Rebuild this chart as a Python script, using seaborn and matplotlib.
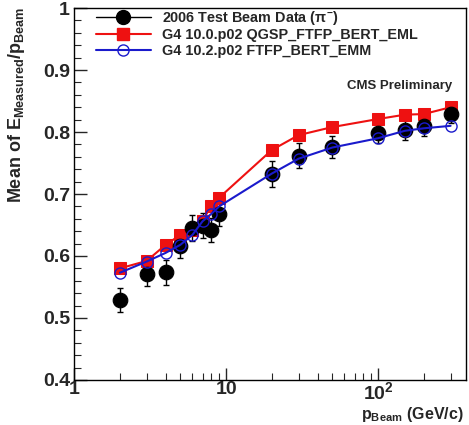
import numpy as np
import pandas as pd
import matplotlib
matplotlib.use('Agg')
import matplotlib.pyplot as plt
import seaborn as sns
from matplotlib.ticker import LogLocator, FixedLocator, NullFormatter
from matplotlib.lines import Line2D

# beam momentum points (GeV/c)
p_beam = [2, 3, 4, 5, 6, 7, 8, 9, 20, 30, 50, 100, 150, 200, 300]

# 2006 test beam data (pi-)
data_mean = [0.529, 0.571, 0.574, 0.616, 0.645, 0.649, 0.642, 0.667, 0.733, 0.762, 0.776, 0.799, 0.803, 0.809, 0.829]
data_err = [0.019, 0.02, 0.02, 0.02, 0.021, 0.02, 0.02, 0.018, 0.021, 0.02, 0.018, 0.016, 0.016, 0.015, 0.014]

# G4 10.0.p02 QGSP_FTFP_BERT_EML
eml_mean = [0.580, 0.592, 0.618, 0.634, 0.642, 0.657, 0.681, 0.694, 0.771, 0.795, 0.808, 0.821, 0.828, 0.829, 0.840]

# G4 10.2.p02 FTFP_BERT_EMM
emm_mean = [0.573, 0.591, 0.605, 0.618, 0.634, 0.656, 0.668, 0.680, 0.733, 0.757, 0.775, 0.790, 0.802, 0.806, 0.810]

legend_labels = ['2006 Test Beam Data ($\\pi^{-}$)',
                 'G4 10.0.p02 QGSP_FTFP_BERT_EML',
                 'G4 10.2.p02 FTFP_BERT_EMM']

df = pd.DataFrame({'p': p_beam, 'data': data_mean, 'err': data_err,
                   'eml': eml_mean, 'emm': emm_mean})

sns.set_style('white')
plt.rcParams['font.family'] = ['Liberation Sans', 'DejaVu Sans']
plt.rcParams['font.weight'] = 'bold'
plt.rcParams['mathtext.fontset'] = 'custom'
plt.rcParams['mathtext.rm'] = 'Liberation Sans:bold'
plt.rcParams['mathtext.it'] = 'Liberation Sans:bold'
plt.rcParams['mathtext.bf'] = 'Liberation Sans:bold'

fig = plt.figure(figsize=(4.69, 4.25), dpi=100)
ax = fig.add_axes([0.158, 0.106, 0.836, 0.875])

# data with error bars
ax.errorbar(df['p'], df['data'], yerr=df['err'], fmt='none', ecolor='black',
            elinewidth=1, capsize=2.5, capthick=1, zorder=2)
sns.lineplot(data=df, x='p', y='eml', ax=ax, color='#ee1111', marker='s',
             markersize=8, markeredgecolor='#ee1111', linewidth=1.5, zorder=3)
sns.scatterplot(data=df, x='p', y='data', ax=ax, color='black', marker='o',
                s=110, edgecolor='black', zorder=4)
sns.lineplot(data=df, x='p', y='emm', ax=ax, color='#1a1acc', marker='o',
             markersize=8, markerfacecolor='none', markeredgecolor='#1a1acc',
             markeredgewidth=1, linewidth=1.5, zorder=5)

ax.set_xscale('log')
ax.set_xlim(1, 380)
ax.set_ylim(0.4, 1.0)

ax.xaxis.set_major_locator(FixedLocator([1, 10, 100]))
ax.set_xticklabels(['1', '10', '$10^{2}$'])
ax.xaxis.set_minor_locator(LogLocator(base=10, subs=np.arange(2, 10)))
ax.xaxis.set_minor_formatter(NullFormatter())
ax.set_yticks([0.4, 0.5, 0.6, 0.7, 0.8, 0.9, 1.0])
ax.set_yticklabels(['0.4', '0.5', '0.6', '0.7', '0.8', '0.9', '1'])
ax.set_yticks(np.arange(0.4, 1.0, 0.02), minor=True)

ax.tick_params(axis='both', which='major', direction='in', length=9, width=1,
               labelsize=14, top=False, right=False, bottom=True, left=True, pad=3)
ax.tick_params(axis='both', which='minor', direction='in', length=5, width=0.8,
               top=False, right=False, bottom=True, left=True)
ax.tick_params(axis='x', which='major', pad=1)
for lab in ax.get_xticklabels() + ax.get_yticklabels():
    lab.set_fontweight('bold')

for sp in ax.spines.values():
    sp.set_color('black')
    sp.set_linewidth(1)

ax.set_xlabel('')
ax.set_ylabel('')
fig.text(0.035, 0.985, 'Mean of E$_{\\mathrm{Measured}}$/p$_{\\mathrm{Beam}}$', rotation=90,
         ha='center', va='top', fontsize=13, fontweight='bold')
fig.text(0.988, 0.003, 'p$_{\\mathrm{Beam}}$ (GeV/c)', ha='right', va='bottom',
         fontsize=11.5, fontweight='bold')
ax.text(0.964, 0.79, 'CMS Preliminary', transform=ax.transAxes, ha='right', va='center',
        fontsize=9.5, fontweight='bold')

handles = [Line2D([], [], color='black', marker='o', markersize=10, linewidth=1),
           Line2D([], [], color='#ee1111', marker='s', markersize=8, linewidth=1.5),
           Line2D([], [], color='#1a1acc', marker='o', markersize=8, markerfacecolor='none',
                  markeredgewidth=1, linewidth=1.5)]
leg = ax.legend(handles, legend_labels, loc='upper left', bbox_to_anchor=(0.033, 1.02),
                frameon=False, handlelength=3.8, handletextpad=0.8,
                labelspacing=0.08, borderaxespad=0.2, prop={'weight': 'bold', 'size': 10.4})

fig.savefig('out.png', dpi=100)
